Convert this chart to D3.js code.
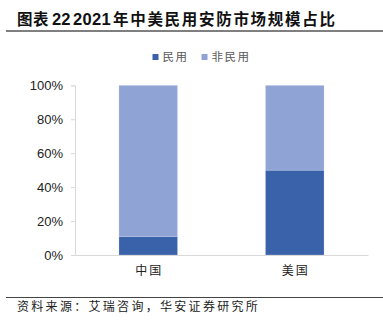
<!DOCTYPE html>
<html>
<head>
<meta charset="utf-8">
<script src="https://cdn.jsdelivr.net/npm/d3@7"></script>
<style>
  html, body { margin: 0; padding: 0; background: #fff; }
  svg { display: block; }
</style>
</head>
<body>
<script>
// Share of civil vs non-civil security market, China and US, 2021
const categories = ["中国", "美国"];
const seriesNames = ["民用", "非民用"];
const civilShare = [0.11, 0.50];
const nonCivilShare = [0.89, 0.50];
const yTicks = [0, 0.2, 0.4, 0.6, 0.8, 1.0];
const colors = ["#3A62AB", "#8FA3D5"];

const W = 383, H = 328;
const svg = d3.select("body").append("svg").attr("width", W).attr("height", H);

const cjk = "'Noto Sans CJK SC', 'Noto Sans', sans-serif";
const latin = "'Liberation Sans', Arial, sans-serif";

// Title, built from runs so the CJK and Latin parts can be spaced separately
const title = svg.append("text")
  .attr("y", 25)
  .attr("font-weight", "bold")
  .attr("font-size", 15.5).attr("fill", "#111");
title.append("tspan").attr("x", 17).attr("font-family", cjk).attr("letter-spacing", 0.5).text("图表");
title.append("tspan").attr("x", 52).attr("font-family", latin).attr("font-size", 16.5).text("22");
title.append("tspan").attr("x", 73).attr("font-family", latin).attr("font-size", 16.5).attr("letter-spacing", 0.3).text("2021");
title.append("tspan").attr("x", 113).attr("font-family", cjk).attr("letter-spacing", 1.7).text("年中美民用安防市场规模占比");

svg.append("line")
  .attr("x1", 6).attr("x2", 383).attr("y1", 31).attr("y2", 31)
  .attr("stroke", "#555").attr("stroke-width", 1.3);

const x = d3.scaleBand().domain(categories).range([75, 368])
  .paddingInner(0.6).paddingOuter(0.3);
const y = d3.scaleLinear().domain([0, 1]).range([255, 85.3]);

// Stacked data
const rows = categories.map((c, i) => ({ cat: c, "民用": civilShare[i], "非民用": nonCivilShare[i] }));
const stacked = d3.stack().keys(seriesNames)(rows);

svg.append("g").selectAll("g").data(stacked).join("g")
  .attr("fill", (d, i) => colors[i])
  .selectAll("rect").data(d => d).join("rect")
  .attr("x", d => x(d.data.cat))
  .attr("width", x.bandwidth())
  .attr("y", d => y(d[1]))
  .attr("height", d => y(d[0]) - y(d[1]))
  .attr("stroke", "#fff").attr("stroke-opacity", 0.35).attr("stroke-width", 0.6);

// Y axis
const yAxis = d3.axisLeft(y).tickValues(yTicks).tickFormat(d3.format(".0%")).tickSize(4).tickPadding(8);
const gy = svg.append("g").attr("transform", "translate(75,0)").call(yAxis);
gy.select(".domain").attr("stroke", "#d9d9d9");
gy.selectAll(".tick line").attr("stroke", "#d9d9d9");
gy.selectAll("text").attr("font-family", latin).attr("font-size", 13).attr("fill", "#222");

// X axis
const xAxis = d3.axisBottom(x).tickSize(0).tickPadding(11);
const gx = svg.append("g").attr("transform", "translate(0,255)").call(xAxis);
gx.select(".domain").attr("stroke", "#d9d9d9");
gx.selectAll("text").attr("font-family", cjk).attr("font-size", 12).attr("fill", "#222")
  .attr("letter-spacing", 2).attr("dx", 1);

// Legend
const legend = svg.append("g");
const legendItems = [{ name: seriesNames[0], x: 152.5 }, { name: seriesNames[1], x: 201.5 }];
legendItems.forEach((it, i) => {
  legend.append("rect").attr("x", it.x).attr("y", 54).attr("width", 6).attr("height", 6).attr("fill", colors[i]);
  legend.append("text").attr("x", it.x + 10).attr("y", 61)
    .attr("font-family", cjk).attr("font-size", 11.5).attr("fill", "#595959")
    .attr("letter-spacing", 1.5)
    .text(it.name);
});

// Source footer
svg.append("line")
  .attr("x1", 6).attr("x2", 383).attr("y1", 297.5).attr("y2", 297.5)
  .attr("stroke", "#444").attr("stroke-width", 1);
svg.append("text")
  .attr("x", 17).attr("y", 311)
  .attr("font-family", cjk).attr("font-size", 12).attr("fill", "#222")
  .attr("letter-spacing", 2.3)
  .text("资料来源：艾瑞咨询，华安证券研究所");
</script>
</body>
</html>
